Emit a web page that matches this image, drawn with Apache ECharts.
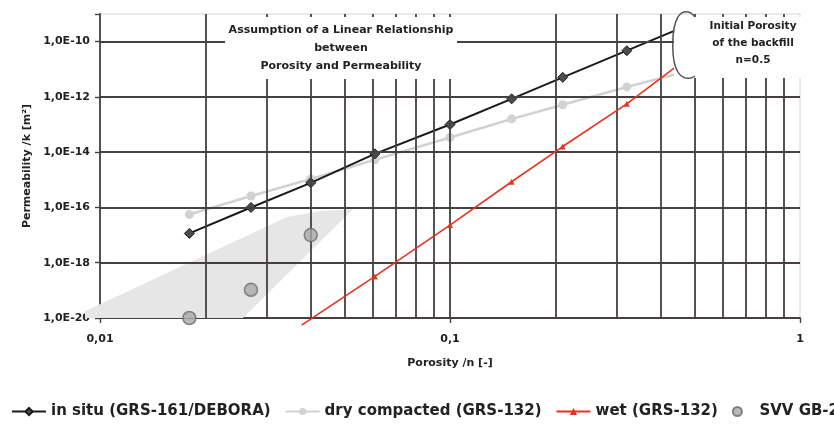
<!DOCTYPE html>
<html>
<head>
<meta charset="utf-8">
<script src="https://cdn.jsdelivr.net/npm/echarts@6/dist/echarts.min.js"></script>
<style>
  html, body { margin: 0; padding: 0; background: #fff; }
  #chart { width: 834px; height: 424px; }
</style>
</head>
<body>
<div id="chart"></div>
<script>
// ---- data ----
const porosityInSitu = [0.018, 0.027, 0.04, 0.061, 0.1, 0.15, 0.21, 0.32, 0.5];
const permInSitu     = [1.15e-17, 1.0e-16, 7.8e-16, 8.7e-15, 1.0e-13, 8.5e-13, 5.1e-12, 4.7e-11, 5e-10];

const porosityDry = [0.018, 0.027, 0.04, 0.061, 0.1, 0.15, 0.21, 0.32, 0.5];
const permDry     = [5.6e-17, 2.6e-16, 1.07e-15, 5.3e-15, 3.4e-14, 1.6e-13, 5.2e-13, 2.3e-12, 1e-11];

const porosityWet = [0.0377, 0.061, 0.1, 0.15, 0.21, 0.32, 0.5];
const permWet     = [5.5e-21, 3.2e-19, 2.3e-17, 8.5e-16, 1.6e-14, 5.6e-13, 4e-11];

const porositySVV = [0.018, 0.027, 0.04];
const permSVV     = [1e-20, 1.05e-19, 1e-17];

// shaded band (SVV range)
const shadeX = [0.00906, 0.00906, 0.0342, 0.0425, 0.0528, 0.0256];
const shadeY = [1e-20, 1.75e-20, 4.5e-17, 7.4e-17, 8.7e-17, 1e-20];

// gridline values
const xGridValues = [0.02, 0.03, 0.04, 0.05, 0.06, 0.07, 0.08, 0.09, 0.1, 0.2, 0.3, 0.4, 0.5, 0.6, 0.7, 0.8, 0.9];
const yGridValues = [1e-18, 1e-16, 1e-14, 1e-12, 1e-10];

const xLabels = {'-2': '0,01', '-1': '0,1', '0': '1'};

const seriesNames = ['in situ (GRS-161/DEBORA)', 'dry compacted (GRS-132)', 'wet (GRS-132)', 'SVV GB-2'];

const X_MIN = 0.01, X_MAX = 1, Y_MIN = 1e-20, Y_MAX = 1e-9;

// ---- build ----
const FONT = '"DejaVu Sans", "Liberation Sans", sans-serif';
const GRID = '#463f3f';

function pts(xs, ys) {
  return xs.map((x, i) => {
    const item = { value: [x, ys[i]] };
    if (ys[i] < Y_MIN || x >= 0.5) item.symbol = 'none';
    return item;
  });
}

const gridLines = xGridValues.map(v => [{ coord: [v, Y_MIN] }, { coord: [v, Y_MAX] }])
  .concat(yGridValues.map(v => [{ coord: [X_MIN, v] }, { coord: [X_MAX, v] }]));

const chart = echarts.init(document.getElementById('chart'), null, { renderer: 'canvas' });

const option = {
  animation: false,
  backgroundColor: '#fff',
  grid: { left: 100, right: 34, top: 14, bottom: 106, show: true, borderColor: '#d4d4d4', borderWidth: 1, backgroundColor: 'transparent' },
  xAxis: {
    type: 'log', logBase: 10, min: X_MIN, max: X_MAX,
    name: 'Porosity /n [-]', nameLocation: 'middle', nameGap: 40,
    nameTextStyle: { fontFamily: FONT, fontWeight: 'bold', fontSize: 11, color: '#222' },
    axisLine: { show: true, lineStyle: { color: GRID, width: 1.8 } },
    axisTick: { show: true, length: 5, lineStyle: { color: GRID, width: 1.4 } },
    splitLine: { show: false },
    axisLabel: {
      margin: 16, fontFamily: FONT, fontWeight: 'bold', fontSize: 11, color: '#222',
      formatter: function (v) { const e = Math.round(Math.log10(v)); return xLabels[String(e)] || ''; }
    }
  },
  yAxis: {
    type: 'log', logBase: 10, min: Y_MIN, max: Y_MAX, interval: 2,
    name: 'Permeability /k [m²]', nameLocation: 'middle', nameGap: 66,
    nameTextStyle: { fontFamily: FONT, fontWeight: 'bold', fontSize: 11, color: '#222' },
    axisLine: { show: true, lineStyle: { color: GRID, width: 1.8 } },
    axisTick: { show: true, length: 5, lineStyle: { color: GRID, width: 1.4 } },
    splitLine: { show: false },
    axisLabel: {
      margin: 10, fontFamily: FONT, fontWeight: 'bold', fontSize: 11, color: '#222',
      formatter: function (v) {
        const e = Math.round(Math.log10(v));
        if (e % 2 !== 0) return '';
        return '1,0E-' + String(-e).padStart(2, '0');
      }
    }
  },
  legend: {
    data: seriesNames,
    left: 6, top: 399, width: 1600,
    itemWidth: 34, itemHeight: 9, itemGap: 14,
    textStyle: { fontFamily: FONT, fontWeight: 'bold', fontSize: 15, color: '#222' }
  },
  series: [
    {
      type: 'custom', name: 'shade', z: 1, silent: true, clip: false,
      data: shadeX.map((x, i) => [x, shadeY[i]]),
      renderItem: function (params, api) {
        if (params.dataIndex !== 0) return null;
        const points = shadeX.map((x, i) => api.coord([x, shadeY[i]]));
        return { type: 'polygon', shape: { points: points }, style: { fill: '#e6e6e6' } };
      }
    },
    {
      type: 'line', name: 'grid', z: 2, data: [], silent: true,
      markLine: {
        silent: true, symbol: 'none', animation: false,
        label: { show: false },
        lineStyle: { color: GRID, width: 1.8, type: 'solid', opacity: 1 },
        data: gridLines
      }
    },
    {
      type: 'line', name: seriesNames[1], z: 3,
      data: pts(porosityDry, permDry),
      symbol: 'circle', symbolSize: 9,
      lineStyle: { color: '#d2d2d2', width: 2.6 },
      itemStyle: { color: '#d2d2d2' }
    },
    {
      type: 'line', name: seriesNames[0], z: 4,
      data: pts(porosityInSitu, permInSitu),
      symbol: 'diamond', symbolSize: 10,
      lineStyle: { color: '#1a1a1a', width: 2 },
      itemStyle: { color: '#4d4d4d', borderColor: '#1a1a1a', borderWidth: 1 }
    },
    {
      type: 'line', name: seriesNames[2], z: 5, clip: false,
      data: pts(porosityWet, permWet),
      symbol: 'triangle', symbolSize: 6,
      lineStyle: { color: '#e8321e', width: 1.6 },
      itemStyle: { color: '#e8321e' }
    },
    {
      type: 'scatter', name: seriesNames[3], z: 6, clip: false,
      data: porositySVV.map((x, i) => [x, permSVV[i]]),
      symbol: 'circle', symbolSize: 13,
      itemStyle: { color: '#a9a9a9', borderColor: '#6a6a6a', borderWidth: 1.5 }
    }
  ],
  graphic: [
    { type: 'rect', z: 100, silent: true, shape: { x: 225, y: 17, width: 232, height: 62 }, style: { fill: '#fff' } },
    { type: 'rect', z: 100, silent: true, shape: { x: 674, y: 17, width: 128, height: 61 }, style: { fill: '#fff' } },
    { type: 'bezierCurve', z: 101, silent: true,
      shape: { x1: 695, y1: 17, cpx1: 690, cpy1: 10, cpx2: 682, cpy2: 10, x2: 678, y2: 17 },
      style: { fill: null, stroke: '#555', lineWidth: 1.5 } },
    { type: 'bezierCurve', z: 101, silent: true,
      shape: { x1: 678, y1: 17, cpx1: 671, cpy1: 28, cpx2: 671, cpy2: 62, x2: 678, y2: 72 },
      style: { fill: null, stroke: '#555', lineWidth: 1.5 } },
    { type: 'bezierCurve', z: 101, silent: true,
      shape: { x1: 678, y1: 72, cpx1: 682, cpy1: 79, cpx2: 690, cpy2: 80, x2: 695, y2: 76 },
      style: { fill: null, stroke: '#555', lineWidth: 1.5 } },
    { type: 'text', z: 102, silent: true, x: 341, y: 48.5,
      style: { text: 'Assumption of a Linear Relationship\nbetween\nPorosity and Permeability', align: 'center', verticalAlign: 'middle', lineHeight: 18, font: 'bold 11px ' + FONT, fill: '#222' } },
    { type: 'text', z: 102, silent: true, x: 753, y: 43,
      style: { text: 'Initial Porosity\nof the backfill\nn=0.5', align: 'center', verticalAlign: 'middle', lineHeight: 17, font: 'bold 10.5px ' + FONT, fill: '#222' } }
  ]
};

chart.setOption(option);
</script>
</body>
</html>
